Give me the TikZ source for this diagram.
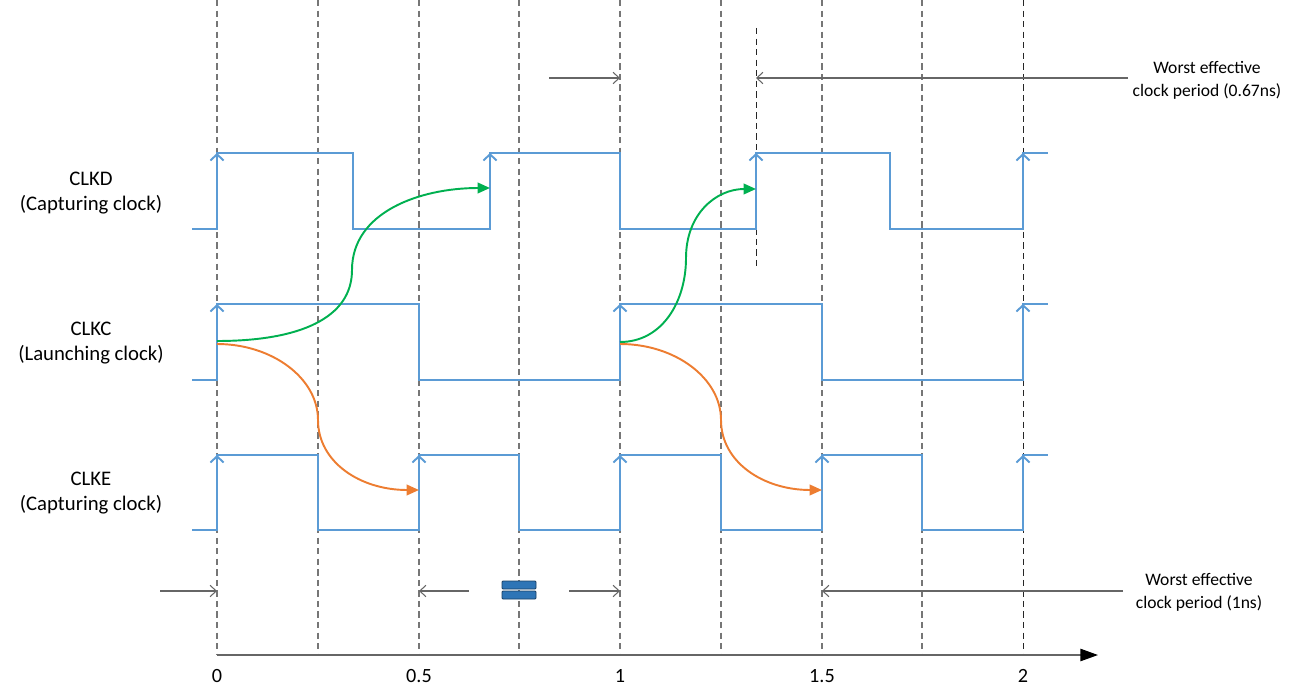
\documentclass[tikz,border=0pt]{standalone}
\usepackage{fontspec}
\setmainfont{Carlito}
\usetikzlibrary{arrows.meta}
\definecolor{wave}{RGB}{91,155,213}
\definecolor{grn}{RGB}{0,176,80}
\definecolor{org}{RGB}{237,125,49}
\definecolor{gridc}{RGB}{118,118,118}
\definecolor{brk}{RGB}{46,117,182}
\begin{document}
\begin{tikzpicture}[x=0.02cm,y=-0.02cm,
  wavel/.style={draw=wave,line width=1.1pt,line join=miter},
  edgemark/.style={draw=wave,line width=1.1pt,-{Straight Barb[length=3.5pt,width=7.5pt]}},
  gridl/.style={draw=gridc,line width=0.65pt,dash pattern=on 3.6pt off 2.4pt},
  gridk/.style={draw=black!85,line width=0.55pt,dash pattern=on 3.6pt off 2.4pt},
  meas/.style={draw=black!60,line width=0.6pt,-{Straight Barb[length=3.5pt,width=6.5pt]}},
  greenpath/.style={draw=grn,line width=1.1pt,-{Triangle[length=7pt,width=6pt]}},
  orangepath/.style={draw=org,line width=1.1pt,-{Triangle[length=7pt,width=6pt]}},
  lbl/.style={align=center,font=\fontsize{11.8}{14.4}\selectfont,inner sep=0pt},
  note/.style={align=center,font=\fontsize{10}{13}\selectfont,inner sep=0pt},
  tick/.style={font=\fontsize{11.5}{13}\selectfont,inner sep=0pt},
  brkbox/.style={fill=brk,draw=brk!55!black,line width=0.5pt,rounded corners=0.6pt}]
\useasboundingbox (0,0) rectangle (1294,699);

% grid lines
\foreach \x in {217,318,419,519,620,721,822,922}
  \draw[gridl] (\x,0) -- (\x,655);
\draw[gridk] (1023,0) -- (1023,655);
\draw[gridk] (756,28) -- (756,268);

% waveforms
\draw[wavel] (192,229) -| (217,153) -| (353,229) -| (490,153) -| (620,229) -| (756,153) -| (890,229) -| (1023,153) -- (1048,153);
\draw[wavel] (192,380) -| (217,304) -| (419,380) -| (620,304) -| (822,380) -| (1023,304) -- (1048,304);
\draw[wavel] (192,530) -| (217,455) -| (318,530) -| (419,455) -| (519,530) -| (620,455) -| (721,530) -| (822,455) -| (922,530) -| (1023,455) -- (1048,455);

% rising edge marks
\foreach \x in {217,490,756,1023} \draw[edgemark] (\x,200) -- (\x,153);
\foreach \x in {217,620,1023} \draw[edgemark] (\x,350) -- (\x,304);
\foreach \x in {217,419,620,822,1023} \draw[edgemark] (\x,500) -- (\x,455);

% launch/capture paths
\draw[greenpath] (217,341) .. controls (300,341) and (352,318) .. (352,270) .. controls (352,212) and (420,188) .. (490,188);
\draw[greenpath] (620,342) .. controls (662,342) and (686,302) .. (686,258) .. controls (686,214) and (716,189) .. (756,189);
\draw[orangepath] (217,344) .. controls (272,344) and (318,378) .. (318,420) .. controls (318,462) and (360,490) .. (419,490);
\draw[orangepath] (620,344) .. controls (675,344) and (721,378) .. (721,420) .. controls (721,462) and (763,490) .. (822,490);

% axis
\coordinate (a0) at (217,655);
\coordinate (aend) at (1098,655);
\draw[draw=black!60,line width=0.8pt,-{Triangle[length=10pt,width=7pt,color=black]}] (a0) -- (aend);
\node[tick] (t0) at (217,676) {0};
\node[tick] (t05) at (419,676) {0.5};
\node[tick] (t1) at (620,676) {1};
\node[tick] (t15) at (822,676) {1.5};
\node[tick] (t2) at (1023,676) {2};

% labels
\node[lbl] (ld) at (91,193) {CLKD\\(Capturing clock)};
\node[lbl] (lc) at (91,343) {CLKC\\(Launching clock)};
\node[lbl] (le) at (91,493) {CLKE\\(Capturing clock)};

% top measurement
\coordinate (ta) at (549,78);
\coordinate (tb) at (620,78);
\coordinate (tc) at (1128,78);
\coordinate (td) at (756,78);
\draw[meas] (ta) -- (tb);
\draw[meas] (tc) -- (td);
\node[note] (ntop) at (1207,80) {Worst effective\\clock period (0.67ns)};

% bottom measurement
\coordinate (ba) at (160,591);
\coordinate (bb) at (217,591);
\coordinate (bc) at (469,591);
\coordinate (bd) at (419,591);
\coordinate (be) at (569,591);
\coordinate (bf) at (620,591);
\coordinate (bg) at (1123,591);
\coordinate (bh) at (822,591);
\draw[meas] (ba) -- (bb);
\draw[meas] (bc) -- (bd);
\draw[meas] (be) -- (bf);
\draw[meas] (bg) -- (bh);
\node[note] (nbot) at (1199,592) {Worst effective\\clock period (1ns)};

% break symbol
\draw[brkbox] (502,581) rectangle (536,589);
\draw[brkbox] (502,591) rectangle (536,599);
\end{tikzpicture}
\end{document}
